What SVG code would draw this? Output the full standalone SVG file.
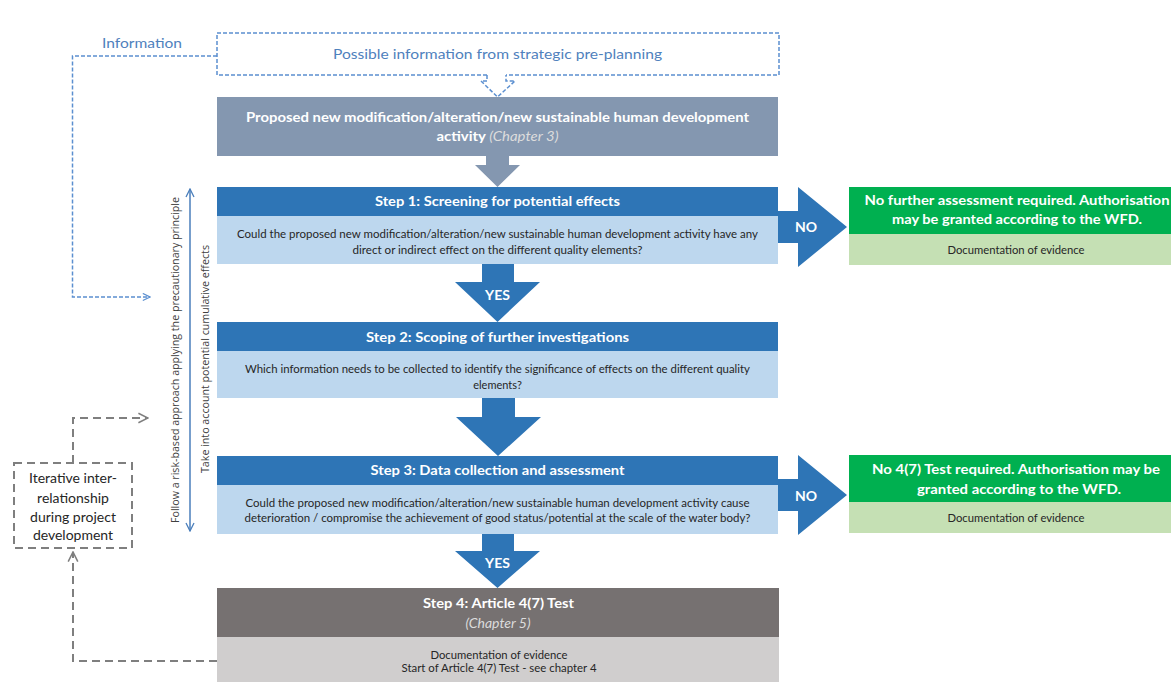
<svg xmlns="http://www.w3.org/2000/svg" width="1171" height="682" viewBox="0 0 1171 682">
<defs>
<style>
text{font-family:Lato,"Open Sans","Liberation Sans",sans-serif;text-anchor:middle}
.hd{font-size:14px;font-weight:bold;fill:#ffffff}
.bd{font-size:11px;fill:#262626}
.it{font-style:italic;font-weight:normal;fill:#dcdcdc}
.info{font-size:14px;fill:#4f81bd}
.vt{font-size:11px;fill:#404040;font-family:"Open Sans","Liberation Sans",sans-serif}
.itr{font-size:14px;fill:#262626}
.blueArrow{fill:#2e75b6}
.dashBlue{fill:none;stroke:#5b8fd0;stroke-width:1.5;stroke-dasharray:4 2}
.dashGray{fill:none;stroke:#7f7f7f;stroke-width:2;stroke-dasharray:8 5}
</style>
<marker id="openBlue" viewBox="0 0 10 10" refX="9" refY="5" markerWidth="9" markerHeight="9" markerUnits="userSpaceOnUse" orient="auto">
<path d="M1,1 L9,5 L1,9" fill="none" stroke="#5b8fd0" stroke-width="1.3"/>
</marker>
<marker id="openGray" viewBox="0 0 10 10" refX="9" refY="5" markerWidth="12" markerHeight="12" markerUnits="userSpaceOnUse" orient="auto">
<path d="M1,1 L9,5 L1,9" fill="none" stroke="#7f7f7f" stroke-width="1.3"/>
</marker>
<marker id="lineBlue" viewBox="0 0 10 10" refX="9" refY="5" markerWidth="10" markerHeight="10" markerUnits="userSpaceOnUse" orient="auto-start-reverse">
<path d="M1,1 L9,5 L1,9" fill="none" stroke="#4a7ebb" stroke-width="1.3"/>
</marker>
</defs>
<rect width="1171" height="682" fill="#ffffff"/>

<g id="connectors">
<path class="dashBlue" d="M217,56 H72.5 V297 H150" marker-end="url(#openBlue)"/>
<line x1="190" y1="189" x2="190" y2="531" stroke="#4a7ebb" stroke-width="1.5" marker-start="url(#lineBlue)" marker-end="url(#lineBlue)"/>
<path class="dashGray" d="M73,463 V418 H148" marker-end="url(#openGray)"/>
<path class="dashGray" d="M217,661 H73 V552" marker-end="url(#openGray)"/>
<polygon points="486,156 509,156 509,165 520,165 497.5,187 475,165 486,165" fill="#8497b0"/>
<polygon class="blueArrow" points="482,264 514,264 514,282 540,282 497.5,322 455,282 482,282"/>
<polygon class="blueArrow" points="482,398 515,398 515,417 541,417 498,456 456,417 482,417"/>
<polygon class="blueArrow" points="482,534 514,534 514,551 540,551 497.5,588 455,551 482,551"/>
<polygon class="blueArrow" points="778,211 798,211 798,187 847,227 798,267 798,243 778,243"/>
<polygon class="blueArrow" points="778,479 798,479 798,455 847,495 798,535 798,511 778,511"/>
<text class="hd" x="497.5" y="300">YES</text>
<text class="hd" x="497.5" y="568">YES</text>
<text class="hd" x="806" y="232">NO</text>
<text class="hd" x="806" y="501">NO</text>
</g>

<g id="info-label">
<text class="info" x="142" y="48" textLength="80" lengthAdjust="spacingAndGlyphs">Information</text>
</g>

<g id="preplanning">
<path class="dashBlue" d="M487,75 H217 V33 H779 V75 H506"/>
<path class="dashBlue" d="M487,75 V81 H481 L497.5,97 L515,81 H506 V75"/>
<text class="info" x="497.5" y="59" textLength="329" lengthAdjust="spacingAndGlyphs">Possible information from strategic pre-planning</text>
</g>

<g id="proposed">
<rect x="217" y="97" width="561" height="59" fill="#8497b0"/>
<text class="hd" x="497.5" y="122" textLength="503" lengthAdjust="spacingAndGlyphs">Proposed new modification/alteration/new sustainable human development</text>
<text class="hd" x="497.5" y="141" textLength="122" lengthAdjust="spacingAndGlyphs">activity <tspan class="it">(Chapter 3)</tspan></text>
</g>

<g id="step1">
<rect x="217" y="187" width="561" height="29" fill="#2e75b6"/>
<rect x="217" y="216" width="561" height="48" fill="#bdd7ee"/>
<text class="hd" x="497.5" y="206" textLength="245" lengthAdjust="spacingAndGlyphs">Step 1: Screening for potential effects</text>
<text class="bd" x="497.5" y="238" textLength="521" lengthAdjust="spacingAndGlyphs">Could the proposed new modification/alteration/new sustainable human development activity have any</text>
<text class="bd" x="497.5" y="254" textLength="290" lengthAdjust="spacingAndGlyphs">direct or indirect effect on the different quality elements?</text>
</g>

<g id="result1">
<rect x="849" y="187" width="322" height="47" fill="#00b050"/>
<rect x="849" y="234" width="322" height="31" fill="#c5e0b4"/>
<text class="hd" x="1017" y="205" textLength="305" lengthAdjust="spacingAndGlyphs">No further assessment required. Authorisation</text>
<text class="hd" x="1017" y="224" textLength="250" lengthAdjust="spacingAndGlyphs">may be granted according to the WFD.</text>
<text class="bd" x="1016" y="254" textLength="137" lengthAdjust="spacingAndGlyphs">Documentation of evidence</text>
</g>

<g id="step2">
<rect x="217" y="322" width="561" height="29" fill="#2e75b6"/>
<rect x="217" y="351" width="561" height="47" fill="#bdd7ee"/>
<text class="hd" x="497.5" y="342" textLength="263" lengthAdjust="spacingAndGlyphs">Step 2: Scoping of further investigations</text>
<text class="bd" x="497.5" y="373" textLength="505" lengthAdjust="spacingAndGlyphs">Which information needs to be collected to identify the significance of effects on the different quality</text>
<text class="bd" x="497.5" y="389">elements?</text>
</g>

<g id="step3">
<rect x="217" y="456" width="561" height="29" fill="#2e75b6"/>
<rect x="217" y="485" width="561" height="49" fill="#bdd7ee"/>
<text class="hd" x="497.5" y="475" textLength="254" lengthAdjust="spacingAndGlyphs">Step 3: Data collection and assessment</text>
<text class="bd" x="497.5" y="507" textLength="504" lengthAdjust="spacingAndGlyphs">Could the proposed new modification/alteration/new sustainable human development activity cause</text>
<text class="bd" x="497.5" y="522" textLength="506" lengthAdjust="spacingAndGlyphs">deterioration / compromise the achievement of good status/potential at the scale of the water body?</text>
</g>

<g id="result2">
<rect x="849" y="455" width="322" height="47" fill="#00b050"/>
<rect x="849" y="502" width="322" height="31" fill="#c5e0b4"/>
<text class="hd" x="1016" y="474" textLength="288" lengthAdjust="spacingAndGlyphs">No 4(7) Test required. Authorisation may be</text>
<text class="hd" x="1019" y="494" textLength="204" lengthAdjust="spacingAndGlyphs">granted according to the WFD.</text>
<text class="bd" x="1016" y="522" textLength="137" lengthAdjust="spacingAndGlyphs">Documentation of evidence</text>
</g>

<g id="step4">
<rect x="217" y="588" width="562" height="49" fill="#767171"/>
<rect x="217" y="637" width="562" height="45" fill="#d0cece"/>
<text class="hd" x="498.5" y="608" textLength="151" lengthAdjust="spacingAndGlyphs">Step 4: Article 4(7) Test</text>
<text class="hd it" x="498" y="628">(Chapter 5)</text>
<text class="bd" x="499" y="659" textLength="137" lengthAdjust="spacingAndGlyphs">Documentation of evidence</text>
<text class="bd" x="499" y="672" textLength="195" lengthAdjust="spacingAndGlyphs">Start of Article 4(7) Test - see chapter 4</text>
</g>

<g id="side-labels">
<text class="vt" transform="translate(179,360) rotate(-90)" textLength="326" lengthAdjust="spacingAndGlyphs">Follow a risk-based approach applying the precautionary principle</text>
<text class="vt" transform="translate(209,359) rotate(-90)" textLength="228" lengthAdjust="spacingAndGlyphs">Take into account potential cumulative effects</text>
</g>

<g id="iterative">
<rect x="14" y="463" width="118" height="85" class="dashGray"/>
<text class="itr" x="73" y="483">Iterative inter-</text>
<text class="itr" x="73" y="503">relationship</text>
<text class="itr" x="73" y="522">during project</text>
<text class="itr" x="73" y="540">development</text>
</g>
</svg>
